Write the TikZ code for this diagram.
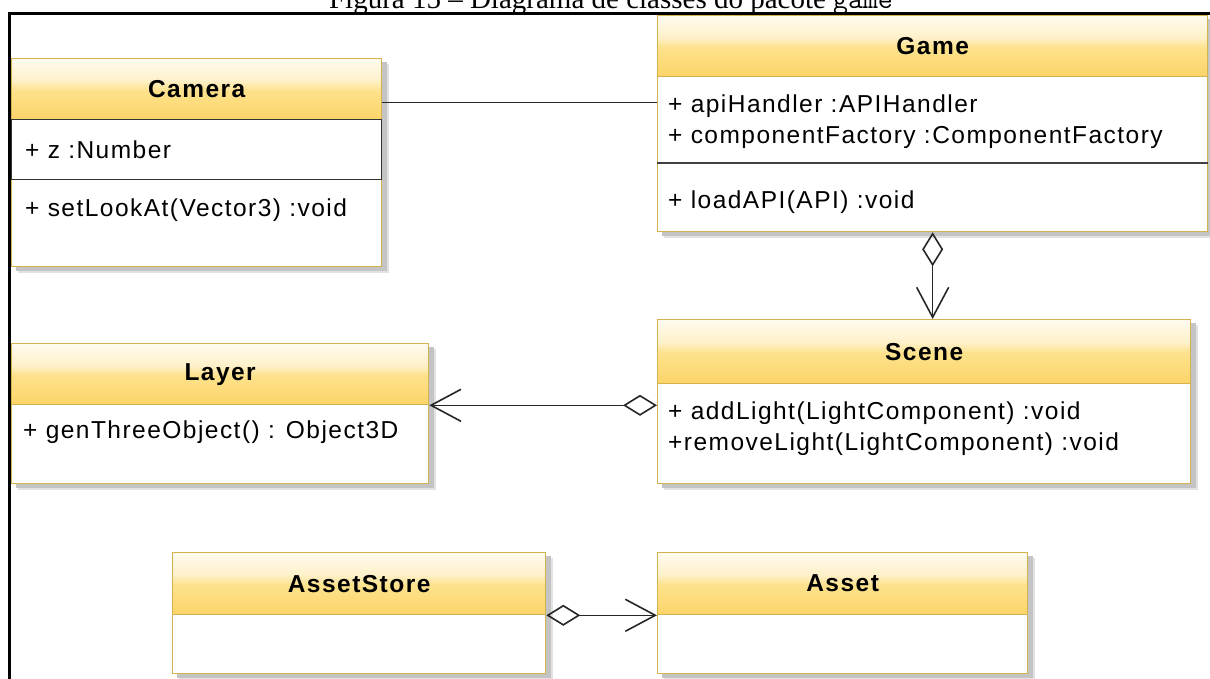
\documentclass[tikz,border=0pt]{standalone}
\usepackage{fontspec}
\setmainfont{Liberation Serif}
\newfontfamily\umlfont{Liberation Sans}[LetterSpace=6]
\usetikzlibrary{arrows.meta,backgrounds,calc}

\definecolor{umlgold}{RGB}{212,178,78}
\definecolor{headtop}{RGB}{255,251,240}
\definecolor{headlight}{RGB}{254,240,200}
\definecolor{headmid}{RGB}{253,226,140}
\definecolor{headbot}{RGB}{252,212,104}
\definecolor{shadenear}{RGB}{196,196,196}
\definecolor{shadefar}{RGB}{226,226,226}

% header gradient: pale at the top, golden yellow towards the bottom
\pgfdeclareverticalshading{umlhead}{100bp}{color(0bp)=(headbot); color(25bp)=(headbot); color(49bp)=(headmid); color(57bp)=(headlight); color(75bp)=(headtop); color(100bp)=(headtop)}

\tikzset{
  hdr/.style={draw=umlgold, line width=1.3pt, shading=umlhead, anchor=north west,
    inner sep=0pt, font=\umlfont\bfseries\fontsize{24.5}{30}\selectfont},
  compartment/.style={draw=umlgold, line width=1.3pt, fill=white, anchor=north west, inner sep=0pt},
  darkcompartment/.style={draw=black!80, line width=1.3pt, fill=white, anchor=north west, inner sep=0pt},
  member/.style={anchor=base west, inner sep=0pt, font=\umlfont\fontsize{24.5}{31}\selectfont},
  divider/.style={draw=black!75, line width=1.5pt},
  assoc/.style={draw=black!85, line width=1.6pt},
  aggr/.style={draw=black!85, line width=1.6pt,
    {Diamond[open,length=34pt,width=21pt]}-{Straight Barb[length=30pt,width=32pt]}},
  shadowfar/.style={fill=shadefar},
  shadownear/.style={fill=shadenear},
}

\begin{document}
\begin{tikzpicture}[x=1pt,y=-1pt]
\useasboundingbox (0,0) rectangle (1210,678);
\clip (0,0) rectangle (1210,678);

% ---- Camera ----
\node[hdr, minimum width=370pt, minimum height=61pt] (camera) at (11,58) {Camera};
\node[compartment, minimum width=370pt, minimum height=87pt] (cameraops) at (11,179) {};
\node[darkcompartment, minimum width=370pt, minimum height=60pt] (cameraattr) at (11,119) {};
\node[member] (cam-z) at (25,158.5) {+ z :Number};
\node[member] (cam-look) at (25,216.5) {+ setLookAt(Vector3) :void};

% ---- Game ----
\node[hdr, minimum width=550pt, minimum height=61pt] (game) at (657,15) {Game};
\node[compartment, minimum width=550pt, minimum height=87pt] (gameattr) at (657,76) {};
\node[compartment, minimum width=550pt, minimum height=68pt] (gameops) at (657,163) {};
\draw[divider] (gameops.north west) -- (gameops.north east);
\node[member] (game-api) at (668,112.5) {+ apiHandler :APIHandler};
\node[member] (game-factory) at (668,143.5) {+ componentFactory :ComponentFactory};
\node[member] (game-load) at (668,208.5) {+ loadAPI(API) :void};

% ---- Layer ----
\node[hdr, minimum width=417pt, minimum height=61pt] (layer) at (11,343) {Layer};
\node[compartment, minimum width=417pt, minimum height=79pt] (layerops) at (11,404) {};
\node[member] (layer-gen) at (23,438.5) {+ genThreeObject() : Object3D};

% ---- Scene ----
\node[hdr, minimum width=533pt, minimum height=64pt] (scene) at (657,319) {Scene};
\node[compartment, minimum width=533pt, minimum height=100pt] (sceneops) at (657,383) {};
\node[member] (scene-add) at (668,419.5) {+ addLight(LightComponent) :void};
\node[member] (scene-remove) at (668,450.5) {+removeLight(LightComponent) :void};

% ---- AssetStore ----
\node[hdr, minimum width=373pt, minimum height=62pt] (store) at (172,552) {AssetStore};
\node[compartment, minimum width=373pt, minimum height=59pt] (storebody) at (172,614) {};

% ---- Asset ----
\node[hdr, minimum width=370pt, minimum height=62pt] (asset) at (657,552) {Asset};
\node[compartment, minimum width=370pt, minimum height=59pt] (assetbody) at (657,614) {};

% ---- drop shadows behind every class ----
\begin{scope}[on background layer]
  \foreach \top/\bottom in {camera/cameraops, game/gameops, layer/layerops,
                            scene/sceneops, store/storebody, asset/assetbody}{
    \fill[shadowfar] ([shift={(6.5pt,-6pt)}]\top.north west) rectangle ([shift={(6.5pt,-6pt)}]\bottom.south east);
    \fill[shadownear] ([shift={(4.5pt,-4pt)}]\top.north west) rectangle ([shift={(4.5pt,-4pt)}]\bottom.south east);
  }
\end{scope}

% ---- relations ----
\draw[assoc] ([yshift=-13.5pt]camera.east) -- ([yshift=-13.5pt]camera.east -| gameattr.west);
\draw[aggr] (gameops.south) -- (gameops.south |- scene.north);
\draw[aggr] (layer.south east -| sceneops.west) -- (layer.south east);
\draw[aggr] (store.south east) -- (store.south east -| assetbody.west);

% ---- figure frame and caption ----
\draw[line width=3.3pt] (9.5,690) -- (9.5,13.7) -- (1220,13.7);
\node[anchor=base, inner sep=0pt, font=\fontsize{29}{34}\selectfont] (caption) at (611,8.3)
  {Figura 15 – Diagrama de classes do pacote {\ttfamily game}};
\end{tikzpicture}
\end{document}
